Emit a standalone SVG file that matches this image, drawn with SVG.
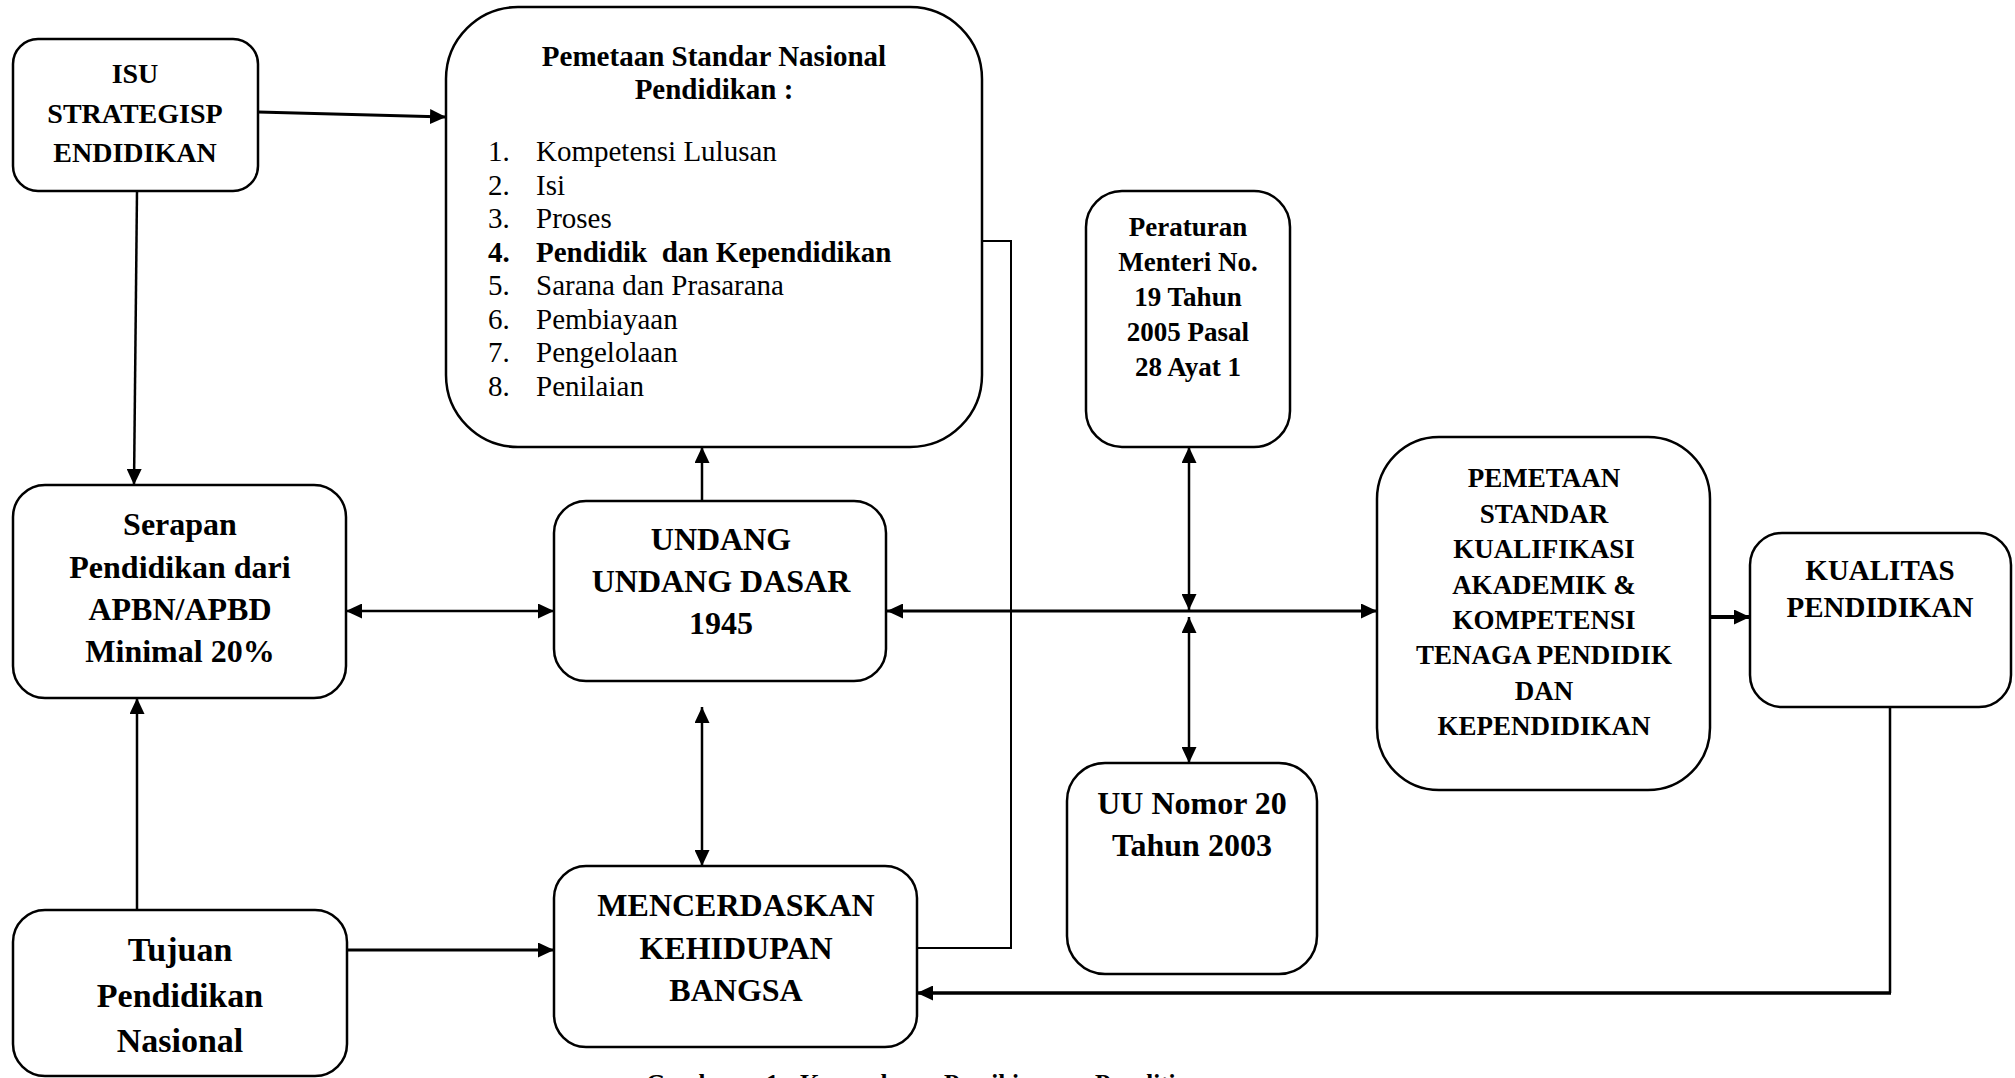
<svg xmlns="http://www.w3.org/2000/svg" width="2015" height="1078" viewBox="0 0 2015 1078">
<style>
.box{fill:#fff;stroke:#000;stroke-width:2.5}
.t{font-family:"Liberation Serif","Times New Roman",serif;font-weight:bold;fill:#000;text-anchor:middle}
.r{font-family:"Liberation Serif","Times New Roman",serif;fill:#000}
.c{fill:none;stroke:#000;stroke-width:2.5}
</style>
<defs>
<marker id="ah" viewBox="0 0 16 15" refX="16" refY="7.5" markerWidth="16" markerHeight="15" markerUnits="userSpaceOnUse" orient="auto-start-reverse">
<path d="M0,0 L16,7.5 L0,15 Z" fill="#000"/>
</marker>
</defs>
<rect width="2015" height="1078" fill="#fff"/>

<g id="connectors">
<path class="c" style="stroke-width:3" d="M258,112 L446,117" marker-end="url(#ah)"/>
<path class="c" d="M137,191 L134,485" marker-end="url(#ah)"/>
<path class="c" d="M137,910 L137,698" marker-end="url(#ah)"/>
<path class="c" d="M346,611 L554,611" marker-start="url(#ah)" marker-end="url(#ah)"/>
<path class="c" d="M702,501 L702,447" marker-end="url(#ah)"/>
<path class="c" d="M702,707 L702,866" marker-start="url(#ah)" marker-end="url(#ah)"/>
<path class="c" style="stroke-width:3" d="M887,611 L1377,611" marker-start="url(#ah)" marker-end="url(#ah)"/>
<path class="c" d="M1189,447 L1189,610" marker-start="url(#ah)" marker-end="url(#ah)"/>
<path class="c" d="M1189,617 L1189,763" marker-start="url(#ah)" marker-end="url(#ah)"/>
<path class="c" style="stroke-width:4" d="M1710,617 L1750,617" marker-end="url(#ah)"/>
<path class="c" d="M1890,707 V993" />
<path class="c" style="stroke-width:3.5" d="M1891,993 H917" marker-end="url(#ah)"/>
<path class="c" style="stroke-width:3" d="M346,950 L554,950" marker-end="url(#ah)"/>
<path class="c" style="stroke-width:2" d="M982,241 H1011 V948 H917"/>
</g>

<g id="isu">
<rect class="box" x="13" y="39" width="245" height="152" rx="25"/>
<text class="t" font-size="28" x="135" y="83">ISU</text>
<text class="t" font-size="28" x="135" y="123">STRATEGISP</text>
<text class="t" font-size="28" x="135" y="162">ENDIDIKAN</text>
</g>

<g id="pemetaan-snp">
<rect class="box" x="446" y="7" width="536" height="440" rx="72"/>
<text class="t" font-size="29" x="714" y="66">Pemetaan Standar Nasional</text>
<text class="t" font-size="29" x="714" y="99">Pendidikan :</text>
<g class="r" font-size="29">
<text x="488" y="161">1.</text><text x="536" y="161">Kompetensi Lulusan</text>
<text x="488" y="195">2.</text><text x="536" y="195">Isi</text>
<text x="488" y="228">3.</text><text x="536" y="228">Proses</text>
<text x="488" y="262" font-weight="bold">4.</text><text x="536" y="262" font-weight="bold">Pendidik &#160;dan Kependidikan</text>
<text x="488" y="295">5.</text><text x="536" y="295">Sarana dan Prasarana</text>
<text x="488" y="329">6.</text><text x="536" y="329">Pembiayaan</text>
<text x="488" y="362">7.</text><text x="536" y="362">Pengelolaan</text>
<text x="488" y="396">8.</text><text x="536" y="396">Penilaian</text>
</g>
</g>

<g id="serapan">
<rect class="box" x="13" y="485" width="333" height="213" rx="32"/>
<text class="t" font-size="32" x="180" y="535">Serapan</text>
<text class="t" font-size="32" x="180" y="578">Pendidikan dari</text>
<text class="t" font-size="32" x="180" y="620">APBN/APBD</text>
<text class="t" font-size="32" x="180" y="662">Minimal 20%</text>
</g>

<g id="undang">
<rect class="box" x="554" y="501" width="332" height="180" rx="32"/>
<text class="t" font-size="32" x="721" y="550">UNDANG</text>
<text class="t" font-size="32" x="721" y="592">UNDANG DASAR</text>
<text class="t" font-size="32" x="721" y="634">1945</text>
</g>

<g id="mencerdaskan">
<rect class="box" x="554" y="866" width="363" height="181" rx="32"/>
<text class="t" font-size="32" x="736" y="916">MENCERDASKAN</text>
<text class="t" font-size="32" x="736" y="959">KEHIDUPAN</text>
<text class="t" font-size="32" x="736" y="1001">BANGSA</text>
</g>

<g id="tujuan">
<rect class="box" x="13" y="910" width="334" height="166" rx="32"/>
<text class="t" font-size="34" x="180" y="961">Tujuan</text>
<text class="t" font-size="34" x="180" y="1007">Pendidikan</text>
<text class="t" font-size="34" x="180" y="1052">Nasional</text>
</g>

<g id="peraturan">
<rect class="box" x="1086" y="191" width="204" height="256" rx="36"/>
<text class="t" font-size="27" x="1188" y="236">Peraturan</text>
<text class="t" font-size="27" x="1188" y="271">Menteri No.</text>
<text class="t" font-size="27" x="1188" y="306">19 Tahun</text>
<text class="t" font-size="27" x="1188" y="341">2005 Pasal</text>
<text class="t" font-size="27" x="1188" y="376">28 Ayat 1</text>
</g>

<g id="uu">
<rect class="box" x="1067" y="763" width="250" height="211" rx="38"/>
<text class="t" font-size="32" x="1192" y="814">UU Nomor 20</text>
<text class="t" font-size="32" x="1192" y="856">Tahun 2003</text>
</g>

<g id="pemetaan-kualifikasi">
<rect class="box" x="1377" y="437" width="333" height="353" rx="62"/>
<text class="t" font-size="27" x="1544" y="487">PEMETAAN</text>
<text class="t" font-size="27" x="1544" y="523">STANDAR</text>
<text class="t" font-size="27" x="1544" y="558">KUALIFIKASI</text>
<text class="t" font-size="27" x="1544" y="594">AKADEMIK &amp;</text>
<text class="t" font-size="27" x="1544" y="629">KOMPETENSI</text>
<text class="t" font-size="27" x="1544" y="664">TENAGA PENDIDIK</text>
<text class="t" font-size="27" x="1544" y="700">DAN</text>
<text class="t" font-size="27" x="1544" y="735">KEPENDIDIKAN</text>
</g>

<g id="kualitas">
<rect class="box" x="1750" y="533" width="261" height="174" rx="32"/>
<text class="t" font-size="29" x="1880" y="580">KUALITAS</text>
<text class="t" font-size="29" x="1880" y="617">PENDIDIKAN</text>
</g>

<g id="caption">
<text class="r" font-weight="bold" font-size="25" y="1092"><tspan x="646">Gambar</tspan><tspan x="766">1.</tspan><tspan x="800">Kerangka</tspan><tspan x="944">Pemikiran</tspan><tspan x="1095">Penelitian</tspan></text>
</g>
</svg>
